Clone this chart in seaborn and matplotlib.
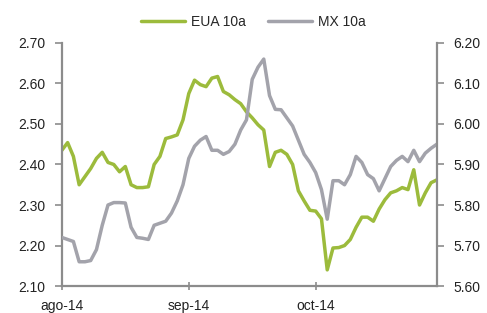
import matplotlib
matplotlib.use("Agg")
import matplotlib.pyplot as plt
import numpy as np
import pandas as pd
import seaborn as sns

# Bond yields, one value per trading day (Aug-Oct 2014)
eua_10a = [
    2.435, 2.454, 2.42, 2.35, 2.37, 2.39, 2.415, 2.43, 2.405, 2.40,
    2.382, 2.395, 2.35, 2.343, 2.343, 2.345, 2.40, 2.42, 2.464, 2.468,
    2.473, 2.51, 2.575, 2.608, 2.597, 2.592, 2.613, 2.617, 2.58, 2.572,
    2.56, 2.55, 2.53, 2.515, 2.498, 2.485, 2.395, 2.43, 2.435, 2.425,
    2.40, 2.335, 2.31, 2.287, 2.285, 2.266, 2.14, 2.194, 2.195, 2.20,
    2.215, 2.245, 2.27, 2.27, 2.26, 2.29, 2.313, 2.33, 2.335, 2.343,
    2.338, 2.387, 2.30, 2.33, 2.355, 2.362,
]
mx_10a = [
    5.72, 5.715, 5.71, 5.66, 5.66, 5.663, 5.69, 5.75, 5.80, 5.806,
    5.806, 5.805, 5.745, 5.72, 5.718, 5.715, 5.75, 5.755, 5.76, 5.78,
    5.81, 5.85, 5.915, 5.945, 5.96, 5.969, 5.935, 5.935, 5.925, 5.932,
    5.95, 5.985, 6.01, 6.11, 6.14, 6.16, 6.07, 6.036, 6.035, 6.015,
    5.995, 5.96, 5.925, 5.905, 5.88, 5.838, 5.765, 5.86, 5.86, 5.85,
    5.875, 5.92, 5.905, 5.875, 5.865, 5.835, 5.865, 5.895, 5.91, 5.92,
    5.907, 5.935, 5.907, 5.928, 5.94, 5.95,
]
month_labels = ["ago-14", "sep-14", "oct-14"]
month_pos = [0, 22, 44]

GREEN = "#9cbb3c"
GREY = "#a3a3ab"
AXIS = "#8c8c8c"

sns.set_style("white")
plt.rcParams["font.family"] = ["Liberation Sans", "DejaVu Sans"]

df = pd.DataFrame({"dia": np.arange(len(eua_10a)), "EUA 10a": eua_10a, "MX 10a": mx_10a})

fig = plt.figure(figsize=(4.87, 3.13), dpi=100)
ax = fig.add_axes([0.127, 0.086, 0.770, 0.777])
ax2 = ax.twinx()

sns.lineplot(data=df, x="dia", y="EUA 10a", ax=ax, color=GREEN, linewidth=2.5, label="EUA 10a", legend=False)
sns.lineplot(data=df, x="dia", y="MX 10a", ax=ax2, color=GREY, linewidth=2.5, label="MX 10a", legend=False)

ax.set_xlim(0, len(eua_10a) - 1)
ax.set_ylim(2.10, 2.70)
ax2.set_ylim(5.60, 6.20)
ax.set_yticks(np.arange(2.10, 2.71, 0.10))
ax2.set_yticks(np.arange(5.60, 6.21, 0.10))
ax.set_yticklabels([f"{v:.2f}" for v in np.arange(2.10, 2.71, 0.10)])
ax2.set_yticklabels([f"{v:.2f}" for v in np.arange(5.60, 6.21, 0.10)])
ax.set_xticks(month_pos)
ax.set_xticklabels(month_labels)
ax.set_xlabel("")
ax.set_ylabel("")
ax2.set_ylabel("")

for a in (ax, ax2):
    a.spines["top"].set_visible(False)
    for side in ("left", "right", "bottom"):
        a.spines[side].set_color(AXIS)
        a.spines[side].set_linewidth(1.6)
ax.spines["right"].set_visible(False)
ax2.spines["left"].set_visible(False)
ax2.spines["bottom"].set_visible(False)

ax.tick_params(axis="y", left=True, length=5, width=1.2, color=AXIS, labelsize=10, pad=7, labelcolor="#222222")
ax2.tick_params(axis="y", right=True, length=5, width=1.2, color=AXIS, labelsize=10, pad=7, labelcolor="#222222")
ax.tick_params(axis="x", bottom=True, direction="inout", length=6, width=1.2, color=AXIS, labelsize=10, pad=6, labelcolor="#222222")

lines = ax.get_lines() + ax2.get_lines()
fig.legend(lines, ["EUA 10a", "MX 10a"], loc="center", bbox_to_anchor=(0.52, 0.93), ncol=2,
           frameon=False, fontsize=10, handlelength=3.2, columnspacing=1.6, handletextpad=0.4)

fig.savefig("out.png", dpi=100)
plt.close(fig)
